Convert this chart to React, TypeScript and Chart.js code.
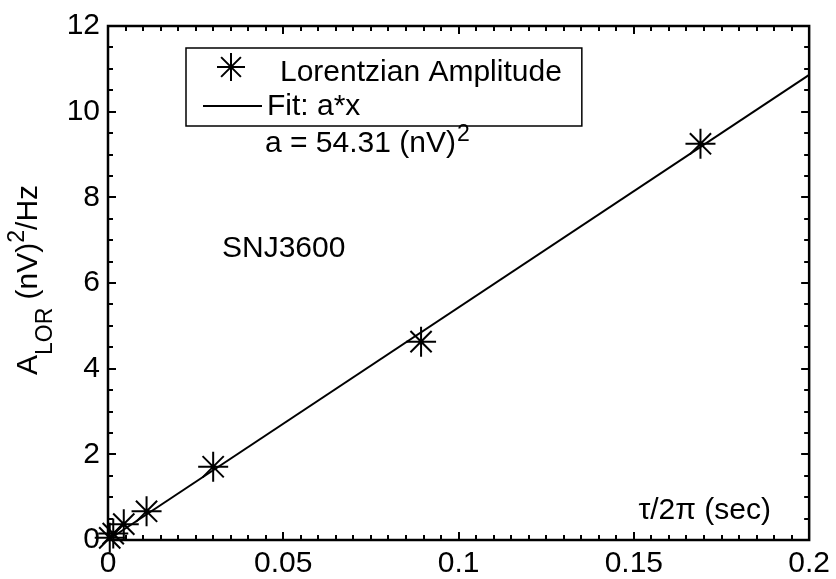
import React, { useEffect, useRef } from "react";
import { Chart, registerables } from "chart.js";

Chart.register(...registerables);

// ---- data ----
const ampX = [0.0005, 0.0015, 0.0045, 0.011, 0.03, 0.0893, 0.169];
const ampY = [0.05, 0.15, 0.37, 0.67, 1.71, 4.63, 9.25];
const fitX = [0, 0.2];
const fitY = [0, 10.86];
const xTicks = [0, 0.05, 0.1, 0.15, 0.2];
const xTickLabels = ["0", "0.05", "0.1", "0.15", "0.2"];
const yTicks = [0, 2, 4, 6, 8, 10, 12];
const yTickLabels = ["0", "2", "4", "6", "8", "10", "12"];
const seriesLabels = ["Lorentzian Amplitude", "Fit: a*x"];
const fitParamText = "a = 54.31 (nV)";
const sampleName = "SNJ3600";
const xTitle = "τ/2π (sec)";

const FONT = "'Liberation Sans', Arial, sans-serif";
const FS = 30;
const FS_SMALL = 23;

function drawStar(ctx: CanvasRenderingContext2D, x: number, y: number, r: number) {
  ctx.beginPath();
  for (let i = 0; i < 4; i++) {
    const a = (i * Math.PI) / 4;
    ctx.moveTo(x - Math.cos(a) * r, y - Math.sin(a) * r);
    ctx.lineTo(x + Math.cos(a) * r, y + Math.sin(a) * r);
  }
  ctx.stroke();
}

const decorPlugin = {
  id: "decor",
  afterDraw(chart: any) {
    const ctx: CanvasRenderingContext2D = chart.ctx;
    const { left, right, top, bottom } = chart.chartArea;
    const xs = chart.scales.x;
    const ys = chart.scales.y;
    ctx.save();
    ctx.strokeStyle = "#000";
    ctx.fillStyle = "#000";
    // frame
    ctx.lineWidth = 2.5;
    ctx.strokeRect(left, top, right - left, bottom - top);
    // inward ticks on all four sides
    ctx.lineWidth = 2;
    ctx.beginPath();
    for (let i = 0; i <= 40; i++) {
      const v = i * 0.005;
      const px = Math.round(xs.getPixelForValue(v));
      const len = i % 10 === 0 ? 8 : 5;
      ctx.moveTo(px, bottom);
      ctx.lineTo(px, bottom - len);
      ctx.moveTo(px, top);
      ctx.lineTo(px, top + len);
    }
    for (let i = 0; i <= 24; i++) {
      const v = i * 0.5;
      const py = Math.round(ys.getPixelForValue(v));
      const len = i % 4 === 0 ? 8 : 5;
      ctx.moveTo(left, py);
      ctx.lineTo(left + len, py);
      ctx.moveTo(right, py);
      ctx.lineTo(right - len, py);
    }
    ctx.stroke();

    // legend box
    ctx.font = `${FS}px ${FONT}`;
    ctx.textBaseline = "alphabetic";
    ctx.textAlign = "left";
    const tx = 280;
    const w1 = ctx.measureText(seriesLabels[0]).width;
    const boxL = 186, boxT = 48, boxB = 126;
    const boxR = tx + w1 + 20;
    ctx.lineWidth = 1.5;
    ctx.strokeRect(boxL, boxT, boxR - boxL, boxB - boxT);
    ctx.lineWidth = 2;
    drawStar(ctx, 231, 67, 14);
    ctx.beginPath();
    ctx.moveTo(203, 106);
    ctx.lineTo(262, 106);
    ctx.stroke();
    ctx.fillText(seriesLabels[0], tx, 81);
    ctx.fillText(seriesLabels[1], 267, 115);

    // fit parameter
    ctx.fillText(fitParamText, 265, 152);
    const wp = ctx.measureText(fitParamText).width;
    ctx.font = `${FS_SMALL}px ${FONT}`;
    ctx.fillText("2", 265 + wp + 1, 141);

    // sample name
    ctx.font = `${FS}px ${FONT}`;
    ctx.fillText(sampleName, 222, 257);

    // x title
    ctx.textAlign = "right";
    ctx.fillText(xTitle, 771, 519);

    // y title (rotated)
    ctx.save();
    ctx.translate(37, 280);
    ctx.rotate(-Math.PI / 2);
    const big = `${FS}px ${FONT}`;
    const small = `${FS_SMALL}px ${FONT}`;
    const parts: [string, string, number][] = [
      ["A", big, 0],
      ["LOR", small, 15],
      [" (nV)", big, 0],
      ["2", small, -13],
      ["/Hz", big, 0],
    ];
    let total = 0;
    for (const [t, f] of parts) {
      ctx.font = f;
      total += ctx.measureText(t).width;
    }
    let cx = -total / 2;
    ctx.textAlign = "left";
    for (const [t, f, dy] of parts) {
      ctx.font = f;
      ctx.fillText(t, cx, dy);
      cx += ctx.measureText(t).width;
    }
    ctx.restore();

    ctx.restore();
  },
};

export default function App() {
  const ref = useRef<HTMLCanvasElement | null>(null);
  useEffect(() => {
    if (!ref.current) return;
    const chart = new Chart(ref.current, {
      type: "scatter",
      data: {
        datasets: [
          {
            label: seriesLabels[1],
            data: fitX.map((x, i) => ({ x, y: fitY[i] })),
            showLine: true,
            borderColor: "#000",
            borderWidth: 2,
            pointRadius: 0,
            clip: false as any,
          },
          {
            label: seriesLabels[0],
            data: ampX.map((x, i) => ({ x, y: ampY[i] })),
            showLine: false,
            pointStyle: "star",
            pointRadius: 15,
            borderColor: "#000",
            backgroundColor: "#000",
            pointBorderWidth: 2,
            clip: false as any,
          } as any,
        ],
      },
      options: {
        animation: false,
        responsive: false,
        events: [],
        layout: { padding: { left: 0, right: 25, top: 20, bottom: 0 } },
        plugins: { legend: { display: false }, tooltip: { enabled: false } },
        scales: {
          x: {
            type: "linear",
            min: 0,
            max: 0.2,
            afterBuildTicks: (s: any) => {
              s.ticks = xTicks.map((v) => ({ value: v }));
            },
            afterFit: (s: any) => {
              s.height = 39;
            },
            ticks: {
              callback: (v: any) => {
                const i = xTicks.findIndex((t) => Math.abs(t - v) < 1e-9);
                return i >= 0 ? xTickLabels[i] : "";
              },
              font: { family: FONT, size: FS },
              color: "#000",
              padding: 6,
              maxRotation: 0,
              autoSkip: false,
            },
            grid: { display: false, drawTicks: false },
            border: { display: false },
          },
          y: {
            type: "linear",
            min: 0,
            max: 12,
            afterBuildTicks: (s: any) => {
              s.ticks = yTicks.map((v) => ({ value: v }));
            },
            afterFit: (s: any) => {
              s.width = 108;
            },
            ticks: {
              callback: (v: any) => {
                const i = yTicks.findIndex((t) => Math.abs(t - v) < 1e-9);
                return i >= 0 ? yTickLabels[i] : "";
              },
              font: { family: FONT, size: FS },
              color: "#000",
              padding: 8,
              autoSkip: false,
            },
            grid: { display: false, drawTicks: false },
            border: { display: false },
          },
        },
      },
      plugins: [decorPlugin],
    });
    return () => chart.destroy();
  }, []);
  return (
    <canvas
      ref={ref}
      width={836}
      height={579}
      style={{ position: "absolute", left: 0, top: 0, width: 836, height: 579, background: "#fff" }}
    />
  );
}
